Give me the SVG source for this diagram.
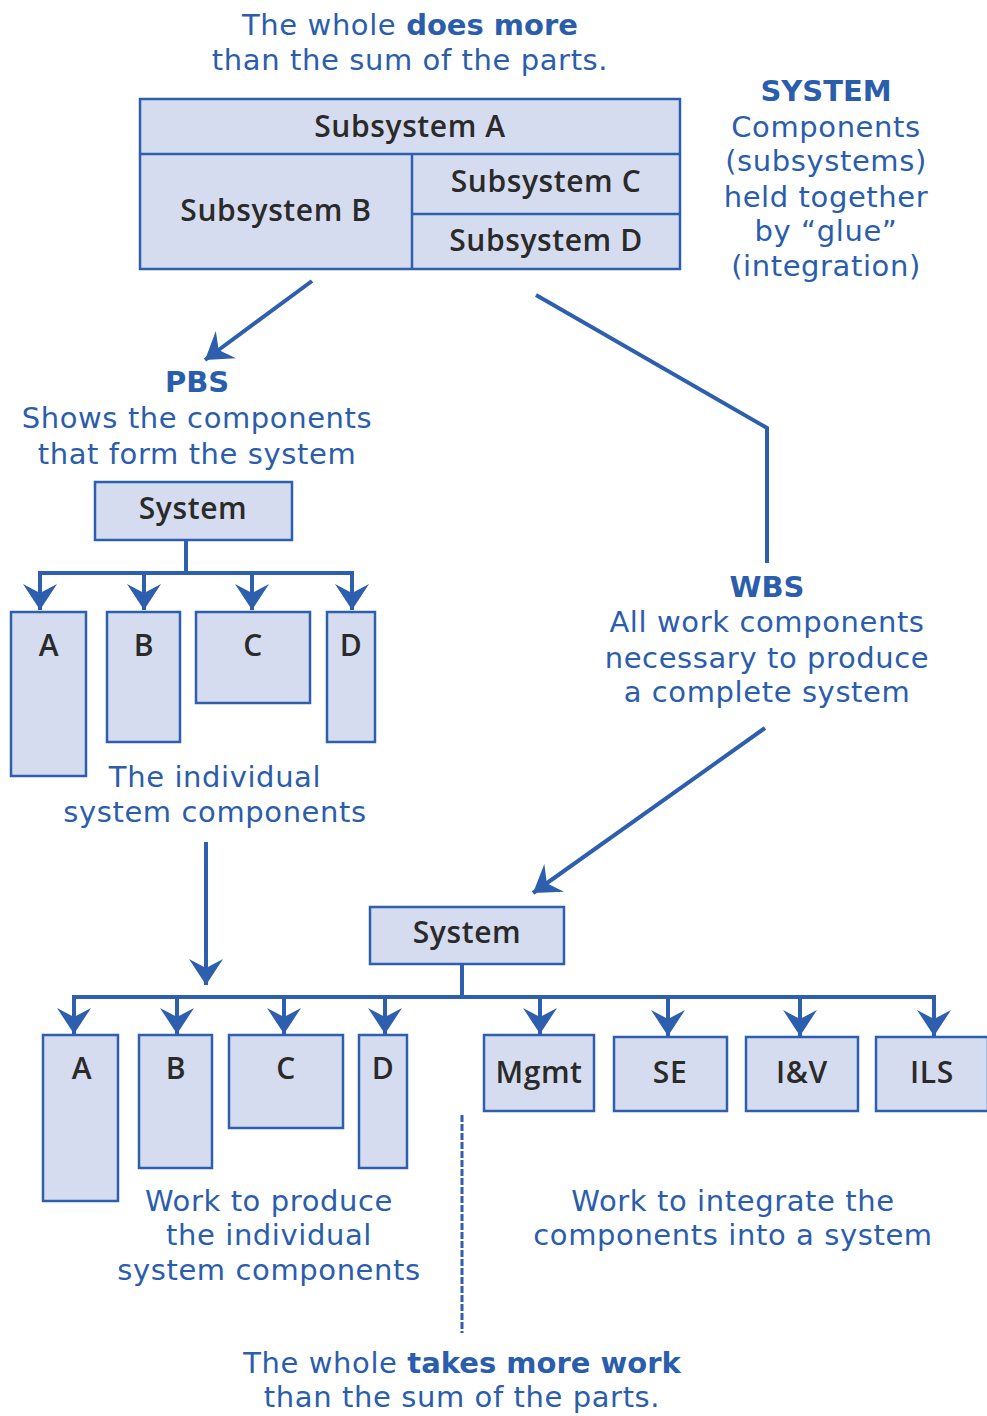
<svg xmlns="http://www.w3.org/2000/svg" width="987" height="1416" viewBox="0 0 987 1416">
<style>
text{text-anchor:middle}
.cap{font-family:"DejaVu Sans","Open Sans",sans-serif;fill:#2b5dad;font-size:29px;letter-spacing:0.6px}
.b{font-weight:bold;letter-spacing:0}
.lbl{font-family:"Open Sans","Noto Sans",sans-serif;fill:#2a2a2a;font-size:30px;font-weight:600;letter-spacing:0.6px}
.box{fill:#d5dcef;stroke:#2e5fae;stroke-width:2.5}
.ln{fill:none;stroke:#2e5fae;stroke-width:4}
.arr{fill:none;stroke:#2e5fae;stroke-width:4;marker-end:url(#ah)}
</style>
<defs>
<marker id="ah" viewBox="-26 -18 27 36" markerWidth="27" markerHeight="36" refX="0" refY="0" orient="auto" markerUnits="userSpaceOnUse">
<path d="M0,0 L-26,-17 L-17,0 L-26,17 Z" fill="#2e5fae"/>
</marker>
</defs>

<g id="title-top">
<text class="cap" x="410" y="35">The whole <tspan class="b">does more</tspan></text>
<text class="cap" x="410" y="70">than the sum of the parts.</text>
</g>

<g id="system-block">
<rect class="box" x="140" y="99" width="540" height="170"/>
<line x1="140" y1="154" x2="680" y2="154" stroke="#2e5fae" stroke-width="2.5"/>
<line x1="412" y1="154" x2="412" y2="269" stroke="#2e5fae" stroke-width="2.5"/>
<line x1="412" y1="214" x2="680" y2="214" stroke="#2e5fae" stroke-width="2.5"/>
<text class="lbl" x="410" y="137">Subsystem A</text>
<text class="lbl" x="276" y="221">Subsystem B</text>
<text class="lbl" x="546" y="192">Subsystem C</text>
<text class="lbl" x="546" y="251">Subsystem D</text>
</g>

<g id="system-caption">
<text class="cap b" x="826" y="101">SYSTEM</text>
<text class="cap" x="826" y="137">Components</text>
<text class="cap" x="826" y="171">(subsystems)</text>
<text class="cap" x="826" y="207">held together</text>
<text class="cap" x="826" y="241">by “glue”</text>
<text class="cap" x="826" y="276">(integration)</text>
</g>

<g id="pbs-caption">
<text class="cap b" x="197" y="392">PBS</text>
<text class="cap" x="197" y="428">Shows the components</text>
<text class="cap" x="197" y="464">that form the system</text>
</g>

<g id="pbs-system"><rect class="box" x="95" y="482" width="197" height="58"/><text class="lbl" x="193" y="519">System</text></g>
<g id="pbs-a"><rect class="box" x="11" y="612" width="75" height="164"/><text class="lbl" x="49" y="656">A</text></g>
<g id="pbs-b"><rect class="box" x="107" y="612" width="73" height="130"/><text class="lbl" x="144" y="656">B</text></g>
<g id="pbs-c"><rect class="box" x="196" y="612" width="114" height="91"/><text class="lbl" x="253" y="656">C</text></g>
<g id="pbs-d"><rect class="box" x="327" y="612" width="48" height="130"/><text class="lbl" x="351" y="656">D</text></g>

<g id="pbs-components-caption">
<text class="cap" x="215" y="787">The individual</text>
<text class="cap" x="215" y="822">system components</text>
</g>

<g id="wbs-caption">
<text class="cap b" x="767" y="597">WBS</text>
<text class="cap" x="767" y="632">All work components</text>
<text class="cap" x="767" y="668">necessary to produce</text>
<text class="cap" x="767" y="702">a complete system</text>
</g>

<g id="wbs-system"><rect class="box" x="370" y="907" width="194" height="57"/><text class="lbl" x="467" y="943">System</text></g>
<g id="wbs-a"><rect class="box" x="43" y="1035" width="75" height="166"/><text class="lbl" x="82" y="1079">A</text></g>
<g id="wbs-b"><rect class="box" x="139" y="1035" width="73" height="133"/><text class="lbl" x="176" y="1079">B</text></g>
<g id="wbs-c"><rect class="box" x="229" y="1035" width="114" height="93"/><text class="lbl" x="286" y="1079">C</text></g>
<g id="wbs-d"><rect class="box" x="359" y="1035" width="48" height="133"/><text class="lbl" x="383" y="1079">D</text></g>
<g id="wbs-mgmt"><rect class="box" x="484" y="1035" width="110" height="76"/><text class="lbl" x="539" y="1083">Mgmt</text></g>
<g id="wbs-se"><rect class="box" x="614" y="1037" width="113" height="74"/><text class="lbl" x="670" y="1083">SE</text></g>
<g id="wbs-iv"><rect class="box" x="746" y="1037" width="112" height="74"/><text class="lbl" x="802" y="1083">I&amp;V</text></g>
<g id="wbs-ils"><rect class="box" x="876" y="1037" width="112" height="74"/><text class="lbl" x="932" y="1083">ILS</text></g>

<g id="bottom-captions">
<text class="cap" x="269" y="1211">Work to produce</text>
<text class="cap" x="269" y="1245">the individual</text>
<text class="cap" x="269" y="1280">system components</text>
<text class="cap" x="733" y="1211">Work to integrate the</text>
<text class="cap" x="733" y="1245">components into a system</text>
<text class="cap" x="462" y="1373">The whole <tspan class="b">takes more work</tspan></text>
<text class="cap" x="462" y="1407">than the sum of the parts.</text>
</g>

<g id="connectors">
<line class="arr" x1="312" y1="281" x2="205" y2="360"/>
<polyline class="ln" stroke-width="3" points="536,295 767,428 767,563"/>
<line class="arr" x1="765" y1="728" x2="533" y2="893"/>
<line class="arr" x1="206" y1="842" x2="206" y2="985"/>
<line class="ln" x1="186" y1="540" x2="186" y2="573"/>
<line class="ln" x1="38" y1="573" x2="354" y2="573"/>
<line class="arr" x1="40" y1="571" x2="40" y2="610"/>
<line class="arr" x1="144" y1="571" x2="144" y2="610"/>
<line class="arr" x1="252" y1="571" x2="252" y2="610"/>
<line class="arr" x1="352" y1="571" x2="352" y2="610"/>
<line class="ln" x1="462" y1="964" x2="462" y2="997"/>
<line class="ln" x1="72" y1="997" x2="936" y2="997"/>
<line class="arr" x1="74" y1="995" x2="74" y2="1034"/>
<line class="arr" x1="177" y1="995" x2="177" y2="1034"/>
<line class="arr" x1="284" y1="995" x2="284" y2="1034"/>
<line class="arr" x1="385" y1="995" x2="385" y2="1034"/>
<line class="arr" x1="540" y1="995" x2="540" y2="1034"/>
<line class="arr" x1="668" y1="995" x2="668" y2="1036"/>
<line class="arr" x1="800" y1="995" x2="800" y2="1036"/>
<line class="arr" x1="934" y1="995" x2="934" y2="1036"/>
<line x1="462" y1="1115" x2="462" y2="1333" stroke="#2e5fae" stroke-width="3" stroke-dasharray="7,2"/>
</g>
</svg>
